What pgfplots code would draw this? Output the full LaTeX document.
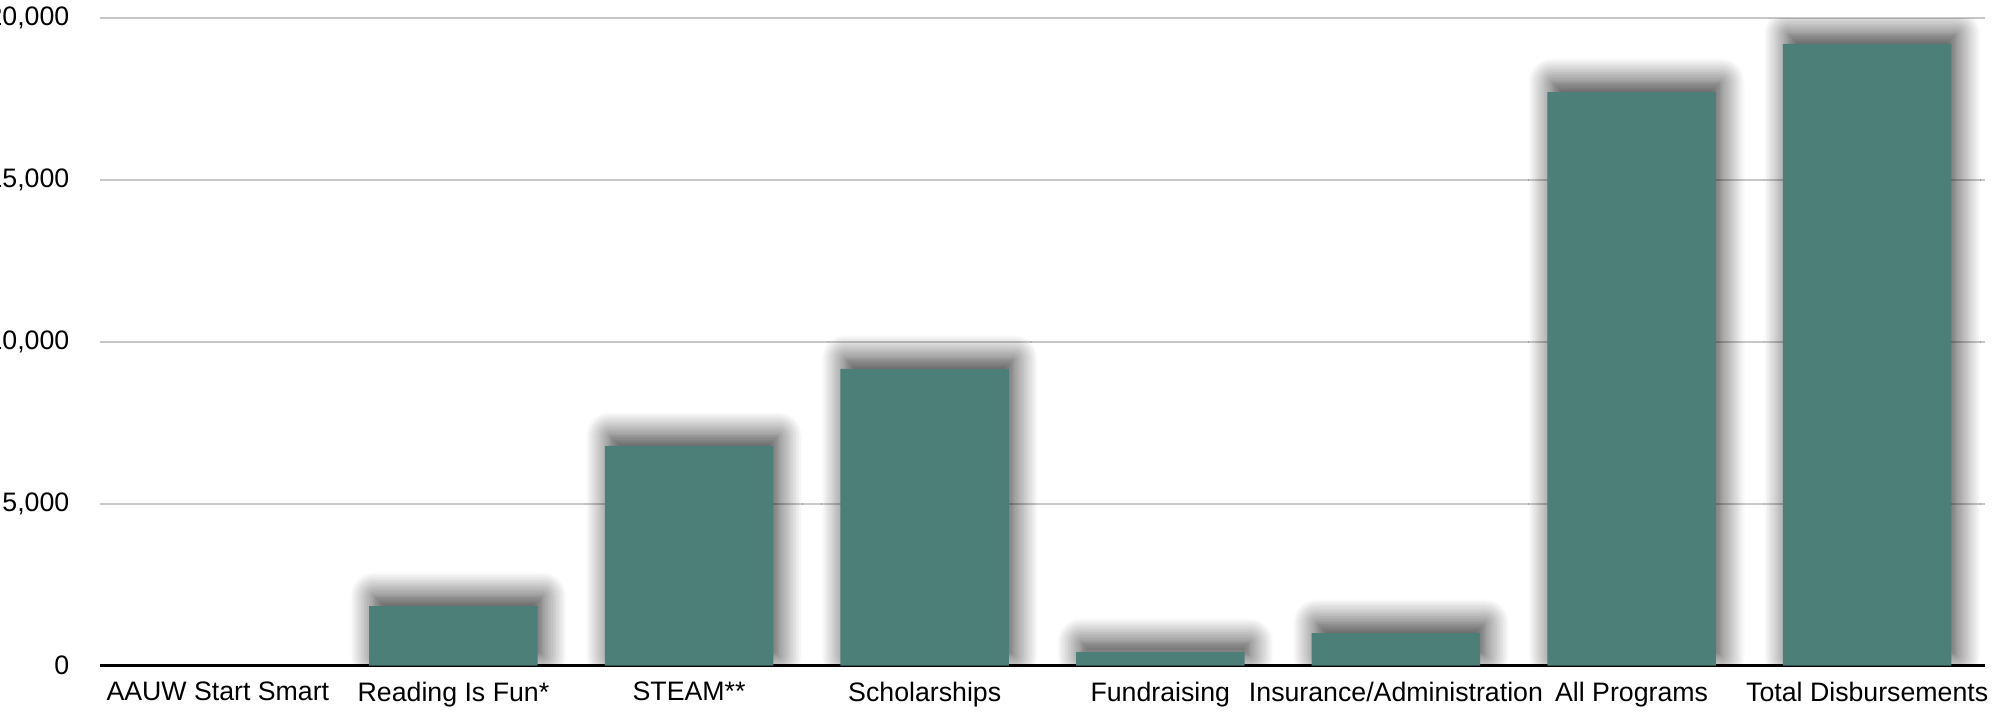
\documentclass[border=0pt]{standalone}
\usepackage{pgfplots}
\pgfplotsset{compat=1.18}
\usepackage{fontspec}
\setmainfont{Liberation Sans}
\usetikzlibrary{shadows.blur}
\definecolor{barc}{HTML}{4C7F78}
\definecolor{gridc}{HTML}{C8C8C8}
\begin{document}
\begin{tikzpicture}
\begin{axis}[name=ax, at={(0,0)}, anchor=south west,
  width=18.85cm, height=6.474cm, scale only axis,
  xmin=-0.5, xmax=7.5, ymin=0, ymax=20000,
  xtick={0,...,7},
  xticklabels={AAUW Start Smart, Reading Is Fun*, STEAM**, Scholarships, Fundraising, Insurance/Administration, All Programs, Total Disbursements},
  ytick={0,5000,10000,15000,20000},
  scaled y ticks=false,
  /pgf/number format/.cd, 1000 sep={,}, assume math mode=true, /pgfplots/.cd,
  ymajorgrids, grid style={gridc, line width=0.45pt},
  axis x line*=bottom, axis y line*=left,
  y axis line style={draw=none},
  x axis line style={black, line width=0.85pt},
  major tick length=0pt, tick style={draw=none},
  tick label style={font=\fontsize{7.6}{9}\selectfont},
  xticklabel style={yshift=-1.2pt},
  yticklabel style={xshift=-5.2pt},
  ybar, bar width=0.715,
]
\addplot[fill=barc, draw=none,
  blur shadow={shadow xshift=0.5mm, shadow yshift=1mm, shadow blur radius=2.4mm, shadow blur steps=16, shadow opacity=80}]
  coordinates {(1,1840) (2,6790) (3,9170) (4,420) (5,1010) (6,17720) (7,19210)};
\end{axis}
\pgfresetboundingbox
\path[use as bounding box] ([shift={(-1.0cm,-0.483cm)}]ax.south west) rectangle ([shift={(0.3cm,0.183cm)}]ax.north east);
\end{tikzpicture}
\end{document}
